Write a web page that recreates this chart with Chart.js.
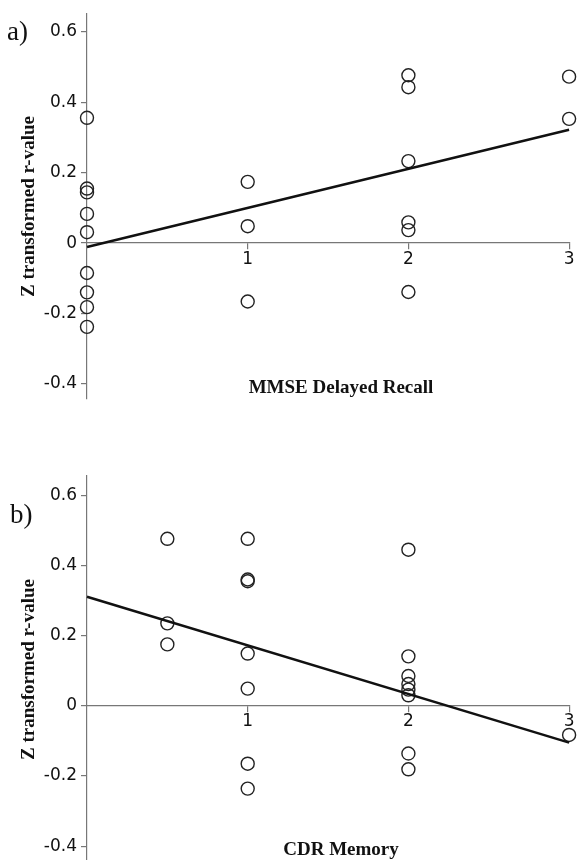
<!DOCTYPE html>
<html>
<head>
<meta charset="utf-8">
<script src="https://cdn.jsdelivr.net/npm/chart.js@4.4.0/dist/chart.umd.min.js"></script>
<style>
  body { margin: 0; background: #fff; }
  .panel { position: relative; width: 577px; height: 430px; overflow: hidden; }
  canvas { display: block; }
</style>
</head>
<body>
<div class="panel"><canvas id="chartA" width="577" height="430"></canvas></div>
<div class="panel"><canvas id="chartB" width="577" height="450"></canvas></div>
<script>
// a) MMSE delayed recall vs Z transformed r-value
var mmseScore = [0, 0, 0, 0, 0, 0, 0, 0, 0, 1, 1, 1, 2, 2, 2, 2, 2, 2, 3, 3];
var mmseZ = [0.356, 0.155, 0.144, 0.083, 0.031, -0.085, -0.14, -0.182, -0.238,
             0.174, 0.048, -0.166,
             0.477, 0.443, 0.233, 0.059, 0.037, -0.139,
             0.473, 0.353];
var mmseFitX = [0, 3];
var mmseFitZ = [-0.011, 0.322];

// b) CDR memory vs Z transformed r-value
var cdrScore = [0.5, 0.5, 0.5, 1, 1, 1, 1, 1, 1, 1, 2, 2, 2, 2, 2, 2, 2, 2, 3];
var cdrZ = [0.476, 0.235, 0.175,
            0.476, 0.36, 0.355, 0.149, 0.049, -0.165, -0.236,
            0.445, 0.141, 0.085, 0.062, 0.046, 0.030, -0.136, -0.181,
            -0.083];
var cdrFitX = [0, 3];
var cdrFitZ = [0.311, -0.105];

var xTickValues = [1, 2, 3];
var yTickValues = [-0.4, -0.2, 0, 0.2, 0.4, 0.6];

function pairs(xs, ys) {
  return xs.map(function (x, i) { return { x: x, y: ys[i] }; });
}

var panelText = {
  id: "panelText",
  afterDraw: function (chart, args, opts) {
    var ctx = chart.ctx;
    ctx.save();
    ctx.fillStyle = "#111";
    ctx.textBaseline = "middle";
    ctx.textAlign = "left";
    ctx.font = '27px "Liberation Serif"';
    ctx.fillText(opts.label, opts.labelX, opts.labelY);
    ctx.textAlign = "center";
    ctx.font = 'bold 19px "Liberation Serif"';
    ctx.fillText(opts.title, opts.titleX, opts.titleY);
    ctx.restore();
  }
};

function makeChart(id, xs, ys, fitX, fitY, yMin, yMax, padTop, padBottom, text) {
  var axisGrid = { display: true, drawOnChartArea: false, drawTicks: true, tickLength: 6, color: "#777", lineWidth: 1.2 };
  var axisBorder = { display: true, color: "#777", width: 1.2 };
  var tickFont = { family: "DejaVu Sans", size: 17 };
  return new Chart(document.getElementById(id), {
    type: "scatter",
    data: {
      datasets: [{
        data: pairs(fitX, fitY),
        showLine: true,
        borderColor: "#111",
        borderWidth: 2.5,
        pointRadius: 0,
        clip: false
      }, {
        data: pairs(xs, ys),
        pointRadius: 6.5,
        pointBorderWidth: 1.4,
        pointBorderColor: "#222",
        pointBackgroundColor: "rgba(0,0,0,0)",
        clip: false
      }]
    },
    options: {
      responsive: false,
      animation: false,
      layout: { padding: { top: padTop, bottom: padBottom, left: 0, right: 7 } },
      plugins: {
        legend: { display: false },
        tooltip: { enabled: false },
        panelText: text
      },
      scales: {
        x: {
          type: "linear",
          min: 0,
          max: 3,
          position: { y: 0 },
          afterBuildTicks: function (s) { s.ticks = xTickValues.map(function (v) { return { value: v }; }); },
          afterFit: function (s) { s.height = 0; s.paddingLeft = 0; s.paddingRight = 0; },
          grid: axisGrid,
          border: axisBorder,
          ticks: { padding: 0, font: tickFont, color: "#111", maxRotation: 0,
                   callback: function (v) { return String(v); } }
        },
        y: {
          type: "linear",
          min: yMin,
          max: yMax,
          afterBuildTicks: function (s) { s.ticks = yTickValues.map(function (v) { return { value: v }; }); },
          afterFit: function (s) { s.width = 87; s.paddingTop = 0; s.paddingBottom = 0; },
          grid: axisGrid,
          border: axisBorder,
          ticks: { padding: 4, font: tickFont, color: "#111",
                   callback: function (v) { return v === 0 ? "0" : v.toFixed(1); } },
          title: {
            display: true,
            text: "Z transformed r-value",
            color: "#111",
            font: { family: "Liberation Serif", size: 19, weight: "bold" },
            padding: { top: 18, bottom: 0 }
          }
        }
      }
    },
    plugins: [panelText]
  });
}

makeChart("chartA", mmseScore, mmseZ, mmseFitX, mmseFitZ, -0.443, 0.651, 14, 31,
  { label: "a)", labelX: 7, labelY: 33, title: "MMSE Delayed Recall", titleX: 341, titleY: 388 });
makeChart("chartB", cdrScore, cdrZ, cdrFitX, cdrFitZ, -0.448, 0.655, 46, 17,
  { label: "b)", labelX: 10, labelY: 86, title: "CDR Memory", titleX: 341, titleY: 420 });
</script>
</body>
</html>
